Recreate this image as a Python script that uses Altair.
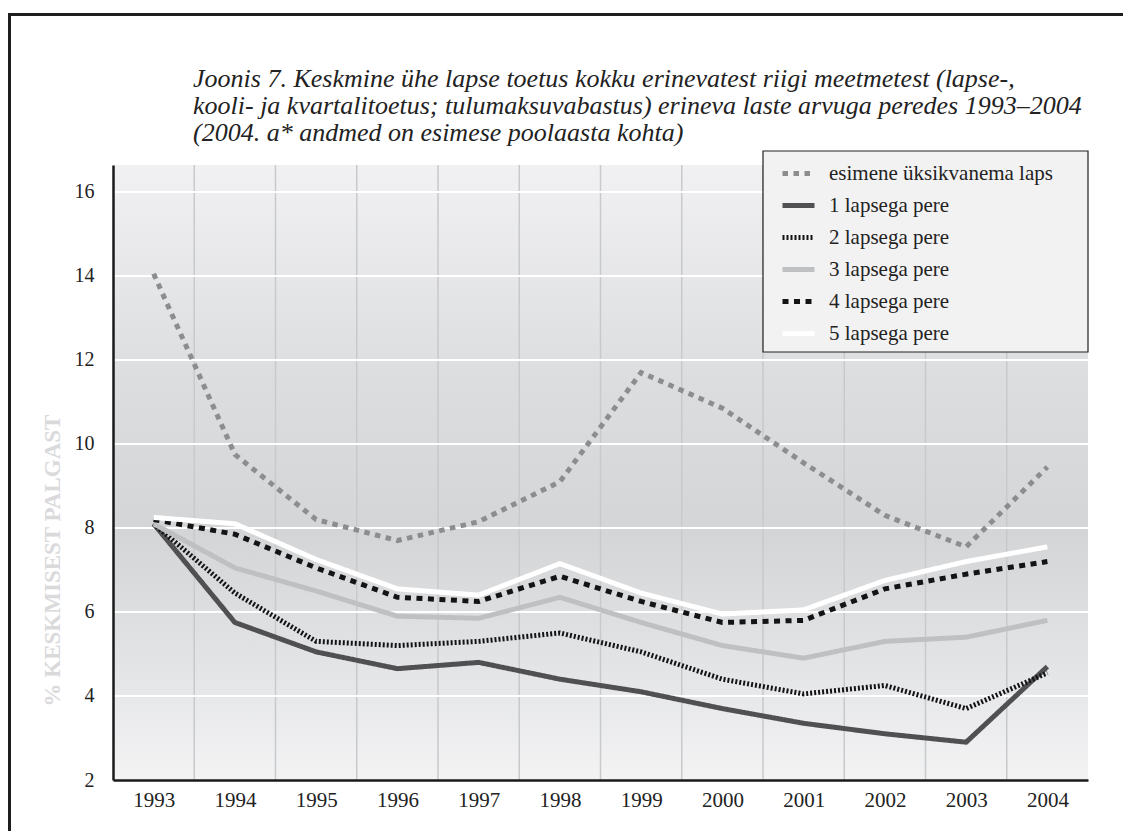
import altair as alt
import pandas as pd

years = [1993, 1994, 1995, 1996, 1997, 1998, 1999, 2000, 2001, 2002, 2003, 2004]

series_names = [
    "esimene üksikvanema laps",
    "1 lapsega pere",
    "2 lapsega pere",
    "3 lapsega pere",
    "4 lapsega pere",
    "5 lapsega pere",
]

single_parent = [14.05, 9.75, 8.2, 7.7, 8.15, 9.1, 11.7, 10.85, 9.55, 8.3, 7.55, 9.45]
one_child = [8.1, 5.75, 5.05, 4.65, 4.8, 4.4, 4.1, 3.7, 3.35, 3.1, 2.9, 4.7]
two_children = [8.1, 6.45, 5.3, 5.2, 5.3, 5.5, 5.05, 4.4, 4.05, 4.25, 3.7, 4.55]
three_children = [8.1, 7.05, 6.5, 5.9, 5.85, 6.35, 5.75, 5.2, 4.9, 5.3, 5.4, 5.8]
four_children = [8.2, 7.85, 7.05, 6.35, 6.25, 6.85, 6.25, 5.75, 5.8, 6.55, 6.9, 7.2]
five_children = [8.25, 8.1, 7.25, 6.55, 6.4, 7.15, 6.45, 5.95, 6.05, 6.75, 7.2, 7.55]

y_ticks = [2, 4, 6, 8, 10, 12, 14, 16]

title_lines = [
    "Joonis 7. Keskmine ühe lapse toetus kokku erinevatest riigi meetmetest (lapse-,",
    "kooli- ja kvartalitoetus; tulumaksuvabastus) erineva laste arvuga peredes 1993–2004",
    "(2004. a* andmed on esimese poolaasta kohta)",
]
y_title = "% KESKMISEST PALGAST"

series_values = [single_parent, one_child, two_children, three_children, four_children, five_children]
rows = []
for name, vals in zip(series_names, series_values):
    for yr, v in zip(years, vals):
        rows.append({"aasta": yr, "seeria": name, "väärtus": v})
df = pd.DataFrame(rows)

vgrid_df = pd.DataFrame({"aasta": [y + 0.5 for y in years[:-1]]})
hgrid_df = pd.DataFrame({"väärtus": [t for t in y_ticks if t > y_ticks[0]]})
one_df = pd.DataFrame({"a": [0]})

colors = ["#8c8d8f", "#505052", "#141414", "#bfc0c2", "#141414", "#ffffff"]
dashes = [[5.5, 5.5], [1, 0], [2, 2], [1, 0], [6, 5.5], [1, 0]]

SERIF = "Liberation Serif"
W, H = 975, 615
X_DOMAIN = [1992.5, 2004.5]
Y_DOMAIN = [2, 16.64]

xscale = alt.Scale(domain=X_DOMAIN, nice=False, zero=False)
yscale = alt.Scale(domain=Y_DOMAIN, nice=False, zero=False)

x_axis = alt.Axis(
    values=years, format="d", title=None, grid=False, ticks=False,
    domainColor="#1a1a1a", domainWidth=2.5, labelFont=SERIF, labelFontSize=21,
    labelColor="#222222", labelPadding=9, labelFlush=False, zindex=1,
)
y_axis = alt.Axis(
    values=y_ticks, title=y_title, grid=False, ticks=False,
    domainColor="#1a1a1a", domainWidth=2.5, labelFont=SERIF, labelFontSize=20,
    labelColor="#222222", labelPadding=19, labelFlush=False, zindex=1,
    titleFont=SERIF, titleFontSize=23, titleFontWeight="bold", titleColor="#dadadc",
    titleAngle=270, titleAlign="center", titleBaseline="middle",
    titleX=-61, titleY=395,
)

background = alt.Chart(one_df).mark_rect(
    fill=alt.LinearGradient(
        gradient="linear",
        x1=0, x2=0, y1=0, y2=1,
        stops=[
            alt.GradientStop(offset=0, color="#f1f1f3"),
            alt.GradientStop(offset=0.35, color="#dcdddf"),
            alt.GradientStop(offset=0.6, color="#d4d5d7"),
            alt.GradientStop(offset=0.8, color="#e2e3e5"),
            alt.GradientStop(offset=1, color="#f3f3f4"),
        ],
    ),
).encode(
    x=alt.value(0), x2=alt.value("width"), y=alt.value(0), y2=alt.value("height")
)

vgrid = alt.Chart(vgrid_df).mark_rule(color="#c8c9cb", strokeWidth=1.5).encode(
    x=alt.X("aasta:Q", scale=xscale, axis=x_axis)
)

hgrid = alt.Chart(hgrid_df).mark_rule(color="#ffffff", strokeWidth=2).encode(
    y=alt.Y("väärtus:Q", scale=yscale, axis=y_axis)
)

lines = alt.Chart(df).mark_line(strokeWidth=5, strokeCap="butt", strokeJoin="miter").encode(
    x=alt.X("aasta:Q", scale=xscale, axis=x_axis),
    y=alt.Y("väärtus:Q", scale=yscale, axis=y_axis),
    color=alt.Color(
        "seeria:N",
        sort=series_names,
        scale=alt.Scale(domain=series_names, range=colors),
        legend=alt.Legend(title=None),
    ),
    strokeDash=alt.StrokeDash(
        "seeria:N",
        sort=series_names,
        scale=alt.Scale(domain=series_names, range=dashes),
        legend=alt.Legend(title=None),
    ),
)

legend_box = alt.Chart(one_df).mark_rect(
    fill="#f2f2f3", stroke="#222222", strokeWidth=1.2
).encode(
    x=alt.value(650), x2=alt.value(W), y=alt.value(-14), y2=alt.value(187)
)

title_text = alt.Chart(one_df).mark_text(
    align="left", baseline="top", font=SERIF, fontSize=26, fontStyle="italic",
    lineHeight=27, color="#222222",
).encode(
    x=alt.value(80), y=alt.value(-99), text=alt.value(title_lines)
)

frame_left = alt.Chart(one_df).mark_rule(color="#1e1e1e", strokeWidth=3).encode(
    x=alt.value(-103.5), y=alt.value(-151), y2=alt.value(H + 60)
)
frame_top = alt.Chart(one_df).mark_rule(color="#1e1e1e", strokeWidth=3).encode(
    x=alt.value(-105), x2=alt.value(W + 40), y=alt.value(-150.5)
)

chart = alt.layer(
    background, vgrid, hgrid, lines, legend_box, title_text, frame_left, frame_top
).properties(
    width=W,
    height=H,
    padding={"left": 105, "top": 157, "right": 35, "bottom": 51},
    autosize=alt.AutoSizeParams(type="none"),
).configure(
    background="#ffffff",
    font=SERIF,
).configure_view(
    stroke=None
).configure_axis(
    labelFont=SERIF,
    titleFont=SERIF,
).configure_text(
    font=SERIF,
).configure_legend(
    orient="none",
    legendX=667,
    legendY=-10,
    fillColor=None,
    strokeColor=None,
    padding=0,
    symbolType="stroke",
    symbolSize=1024,
    symbolStrokeWidth=5,
    labelFont=SERIF,
    labelFontSize=21,
    labelColor="#222222",
    labelOffset=12,
    rowPadding=3,
    labelLimit=400,
)

chart.save("out.html", embed_options={"renderer": "svg", "actions": False})
